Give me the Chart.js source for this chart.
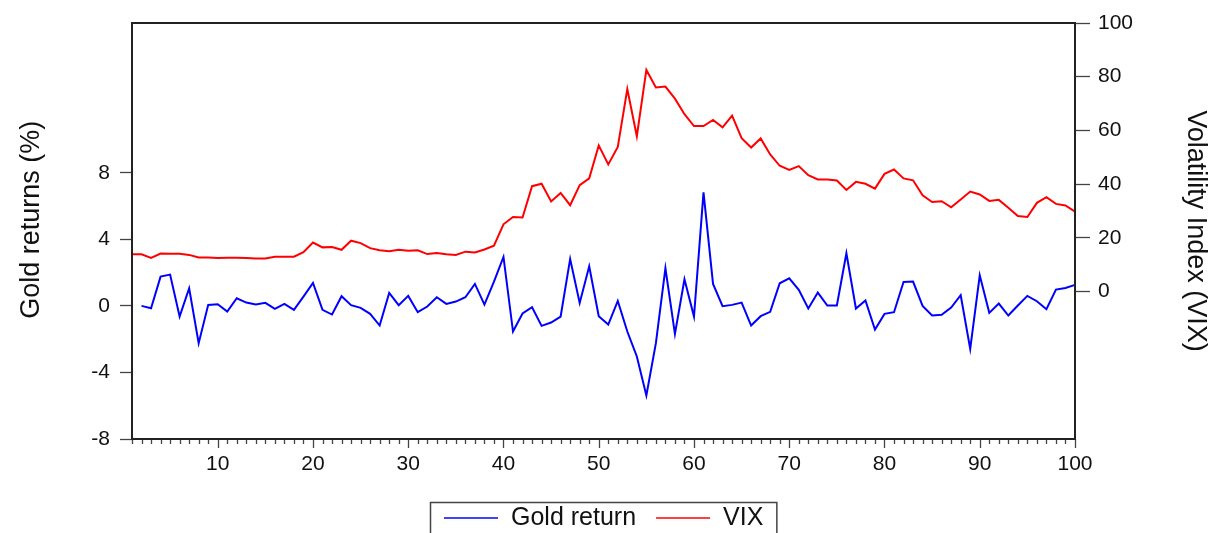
<!DOCTYPE html>
<html>
<head>
<meta charset="utf-8">
<script src="https://cdn.jsdelivr.net/npm/chart.js@4.4.0/dist/chart.umd.min.js"></script>
<style>
	html, body { margin: 0; padding: 0; background: #fff; }
	#wrap { width: 1222px; height: 533px; position: relative; }
</style>
</head>
<body>
<div id="wrap"><canvas id="myChart"></canvas></div>
<script>
const periods = [
	1, 2, 3, 4, 5, 6, 7, 8, 9, 10,
	11, 12, 13, 14, 15, 16, 17, 18, 19, 20,
	21, 22, 23, 24, 25, 26, 27, 28, 29, 30,
	31, 32, 33, 34, 35, 36, 37, 38, 39, 40,
	41, 42, 43, 44, 45, 46, 47, 48, 49, 50,
	51, 52, 53, 54, 55, 56, 57, 58, 59, 60,
	61, 62, 63, 64, 65, 66, 67, 68, 69, 70,
	71, 72, 73, 74, 75, 76, 77, 78, 79, 80,
	81, 82, 83, 84, 85, 86, 87, 88, 89, 90,
	91, 92, 93, 94, 95, 96, 97, 98, 99, 100
];
// gold return (%), first period has no value
const goldReturn = [
	null, 0.0, -0.14, 1.76, 1.88, -0.64, 1.06, -2.24, 0.06, 0.1,
	-0.34, 0.46, 0.2, 0.08, 0.18, -0.18, 0.12, -0.24, 0.56, 1.38,
	-0.24, -0.52, 0.58, 0.04, -0.12, -0.48, -1.18, 0.78, 0.04, 0.6,
	-0.38, -0.04, 0.52, 0.12, 0.26, 0.52, 1.32, 0.08, 1.46, 2.94,
	-1.54, -0.46, -0.08, -1.2, -1.0, -0.64, 2.82, 0.18, 2.38, -0.62,
	-1.12, 0.3, -1.54, -3.04, -5.38, -2.24, 2.26, -1.68, 1.6, -0.64,
	6.82, 1.32, -0.02, 0.06, 0.2, -1.18, -0.62, -0.36, 1.36, 1.66,
	0.96, -0.16, 0.8, 0.02, 0.02, 3.16, -0.16, 0.32, -1.42, -0.48,
	-0.38, 1.44, 1.46, 0.0, -0.58, -0.54, -0.1, 0.64, -2.58, 1.84,
	-0.42, 0.14, -0.58, 0.02, 0.6, 0.28, -0.2, 0.98, 1.08, 1.26
];
const vix = [
	13.8, 13.8, 12.5, 14.1, 14.0, 14.0, 13.6, 12.6, 12.6, 12.4,
	12.5, 12.5, 12.4, 12.3, 12.3, 12.9, 12.9, 12.9, 14.6, 18.2,
	16.4, 16.5, 15.5, 18.9, 18.0, 16.1, 15.3, 15.0, 15.5, 15.1,
	15.3, 13.9, 14.3, 13.8, 13.6, 14.8, 14.5, 15.6, 17.0, 25.0,
	27.7, 27.5, 39.2, 40.1, 33.5, 36.7, 32.1, 39.6, 42.1, 54.4,
	47.3, 53.8, 75.4, 57.8, 82.5, 76.0, 76.3, 71.8, 66.0, 61.6,
	61.6, 63.9, 61.1, 65.5, 57.1, 53.6, 57.0, 51.0, 46.8, 45.3,
	46.7, 43.3, 41.7, 41.7, 41.3, 37.8, 40.8, 40.1, 38.3, 43.8,
	45.4, 42.1, 41.4, 35.8, 33.3, 33.6, 31.3, 34.2, 37.2, 36.1,
	33.7, 34.1, 31.2, 28.1, 27.7, 33.0, 35.1, 32.6, 32.0, 29.7
];
const leftTicks = [-8, -4, 0, 4, 8];
const rightTicks = [0, 20, 40, 60, 80, 100];
const xTickLabels = [10, 20, 30, 40, 50, 60, 70, 80, 90, 100];

const FONT = "'Liberation Sans', Arial, sans-serif";

// frame, x tick marks and boxed legend under the chart
const framePlugin = {
	id: 'frame',
	afterDraw(chart) {
		const ctx = chart.ctx;
		const a = chart.chartArea;
		const xs = chart.scales.x;
		ctx.save();

		ctx.strokeStyle = '#444';
		ctx.lineWidth = 1.3;
		periods.forEach((p, i) => {
			const px = Math.round(xs.getPixelForValue(i)) + 0.5;
			const len = xTickLabels.includes(p) ? 9 : 5;
			ctx.beginPath();
			ctx.moveTo(px, a.bottom);
			ctx.lineTo(px, a.bottom + len);
			ctx.stroke();
		});

		ctx.strokeStyle = '#222';
		ctx.lineWidth = 2;
		ctx.strokeRect(a.left, a.top, a.right - a.left, a.bottom - a.top);

		// legend
		ctx.font = '25px ' + FONT;
		const items = chart.data.datasets.map(d => ({ label: d.label, color: d.borderColor, w: ctx.measureText(d.label).width }));
		const lineLen = 54, gapText = 13, gapItem = 20, padL = 14, padR = 13;
		let total = padL + padR;
		items.forEach((it, k) => { total += lineLen + gapText + it.w + (k ? gapItem : 0); });
		const bx = Math.round(603 - total / 2), by = 502, cy = 518;
		ctx.strokeStyle = '#444';
		ctx.lineWidth = 1.5;
		ctx.strokeRect(bx + 0.5, by + 0.5, total, 60);
		let cx = bx + padL;
		items.forEach((it, k) => {
			if (k) cx += gapItem;
			ctx.strokeStyle = it.color;
			ctx.lineWidth = 1.5;
			ctx.beginPath();
			ctx.moveTo(cx, cy);
			ctx.lineTo(cx + lineLen, cy);
			ctx.stroke();
			cx += lineLen + gapText;
			ctx.fillStyle = '#111';
			ctx.textBaseline = 'middle';
			ctx.fillText(it.label, cx, cy);
			cx += it.w;
		});
		ctx.restore();
	}
};

const ctx = document.getElementById('myChart').getContext('2d');
const myChart = new Chart(ctx, {
	type: 'line',
	data: {
		labels: periods,
		datasets: [{
			label: 'Gold return',
			data: goldReturn,
			yAxisID: 'y',
			borderColor: '#0000ff',
			borderWidth: 2,
			pointRadius: 0,
			tension: 0
		}, {
			label: 'VIX',
			data: vix,
			yAxisID: 'y1',
			borderColor: '#ff0000',
			borderWidth: 2,
			pointRadius: 0,
			tension: 0
		}]
	},
	options: {
		responsive: true,
		maintainAspectRatio: false,
		animation: false,
		layout: { padding: { top: 23 } },
		plugins: {
			legend: { display: false },
			tooltip: { enabled: false }
		},
		scales: {
			x: {
				type: 'category',
				offset: false,
				grid: { display: false },
				border: { display: false },
				ticks: {
					autoSkip: false,
					maxRotation: 0,
					padding: 5,
					color: '#111',
					font: { size: 21, family: FONT },
					callback: function(v, i) {
						return xTickLabels.includes(periods[i]) ? String(periods[i]) : '';
					}
				},
				afterFit: s => { s.height = 94; }
			},
			y: {
				position: 'left',
				min: -8,
				max: 17,
				afterBuildTicks: s => { s.ticks = leftTicks.map(v => ({ value: v })); },
				grid: { drawOnChartArea: false, tickLength: 12, tickColor: '#444', tickWidth: 1.3 },
				border: { display: false },
				ticks: { padding: 10, color: '#111', font: { size: 21, family: FONT } },
				title: {
					display: true,
					text: '   Gold returns (%)',
					color: '#111',
					font: { size: 27, family: FONT },
					padding: { top: 15, bottom: 0 }
				},
				afterFit: s => { s.width = 132; }
			},
			y1: {
				position: 'right',
				min: -55,
				max: 100,
				afterBuildTicks: s => { s.ticks = rightTicks.map(v => ({ value: v })); },
				grid: { drawOnChartArea: false, tickLength: 15, tickColor: '#444', tickWidth: 1.3 },
				border: { display: false },
				ticks: { padding: 8, color: '#111', font: { size: 21, family: FONT } },
				title: {
					display: true,
					text: 'Volatility Index (VIX)',
					color: '#111',
					font: { size: 27, family: FONT },
					padding: { top: 10, bottom: 0 }
				},
				afterFit: s => { s.width = 147; }
			}
		}
	},
	plugins: [framePlugin]
});
</script>
</body>
</html>
